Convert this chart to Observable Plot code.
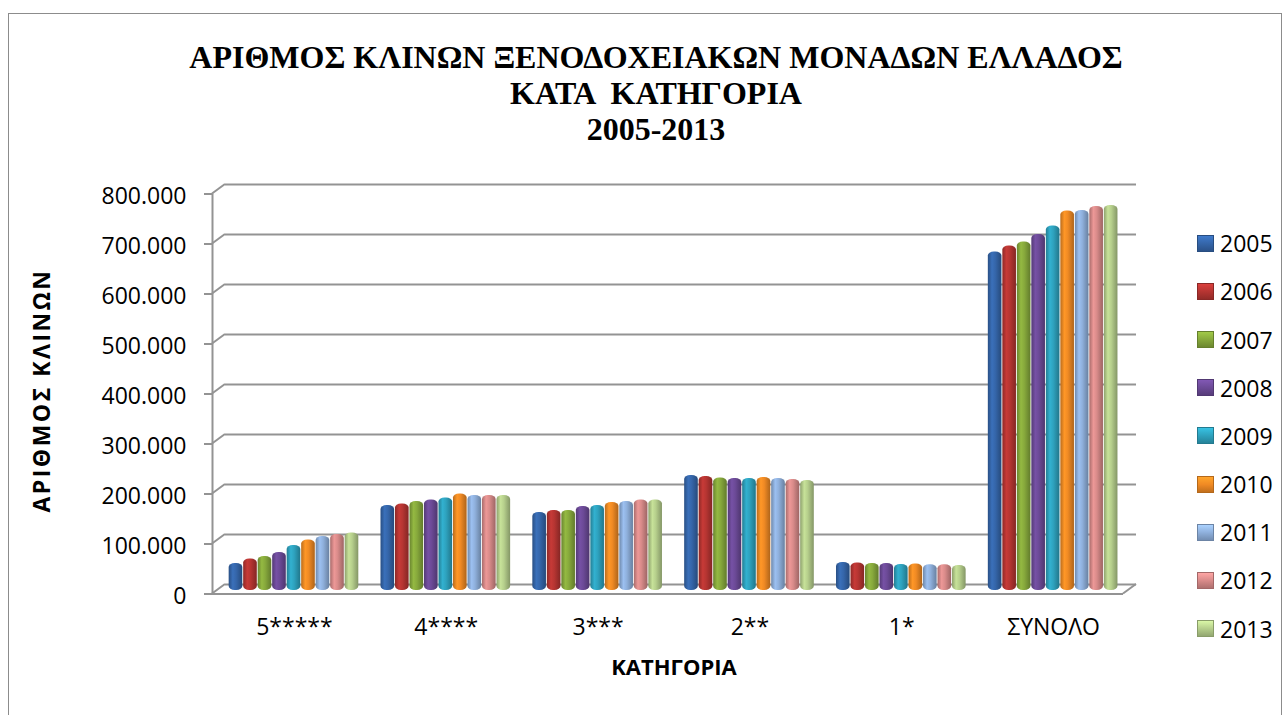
<!DOCTYPE html>
<html>
<head>
<meta charset="utf-8">
<script src="https://cdn.jsdelivr.net/npm/d3@7"></script>
<script src="https://cdn.jsdelivr.net/npm/@observablehq/plot@0.6"></script>
<style>
  html, body { margin: 0; padding: 0; background: #fff; }
  #wrap { position: relative; width: 1288px; height: 715px; overflow: hidden; background: #fff; }
  #border { position: absolute; left: 8px; top: 13px; width: 1274px; height: 760px; border: 1.5px solid #8c8c8c; box-sizing: border-box; }
  #title { position: absolute; left: 12px; width: 1288px; top: 39px; text-align: center;
           font-family: "Liberation Serif", "Times New Roman", serif; font-weight: bold; font-size: 32px; line-height: 36px; white-space: pre; color: #000; }
  #chart { position: absolute; left: 0; top: 0; }
  #legend { position: absolute; left: 1197px; top: 0; font-family: "Open Sans", sans-serif; font-size: 23px; color: #000; }
  .row { position: absolute; left: 0; height: 48px; display: flex; align-items: center; white-space: nowrap; }
  .sw { width: 17px; height: 17px; margin-right: 6px; box-sizing: border-box; }
  .ytitle { letter-spacing: 2.5px; }
</style>
</head>
<body>
<svg width="0" height="0" style="position:absolute"><defs id="defs"></defs></svg>
<div id="wrap">
  <div id="border"></div>
  <div id="title"></div>
  <div id="chart"></div>
  <div id="legend"></div>
</div>
<script>
// ---- data ----
const titleLines = ["ΑΡΙΘΜΟΣ ΚΛΙΝΩΝ ΞΕΝΟΔΟΧΕΙΑΚΩΝ ΜΟΝΑΔΩΝ ΕΛΛΑΔΟΣ", "ΚΑΤΑ  ΚΑΤΗΓΟΡΙΑ", "2005-2013"];
const yTitle = "ΑΡΙΘΜΟΣ ΚΛΙΝΩΝ";
const xTitle = "ΚΑΤΗΓΟΡΙΑ";
const categories = ["5*****", "4****", "3***", "2**", "1*", "ΣΥΝΟΛΟ"];
const years = ["2005", "2006", "2007", "2008", "2009", "2010", "2011", "2012", "2013"];
const beds5 = [54000, 63000, 68000, 76000, 90000, 101000, 108000, 112000, 115000];
const beds4 = [170000, 173000, 178000, 181000, 185000, 193000, 190000, 190000, 190000];
const beds3 = [156000, 160000, 160000, 168000, 170000, 176000, 178000, 181000, 181000];
const beds2 = [230000, 228000, 225000, 224000, 224000, 226000, 224000, 222000, 220000];
const beds1 = [56000, 55000, 54000, 54000, 52000, 53000, 51500, 51500, 50000];
const bedsTotal = [677000, 689000, 697000, 712000, 729000, 759000, 760000, 768000, 770000];
const yTicks = [0, 100000, 200000, 300000, 400000, 500000, 600000, 700000, 800000];
const colors = ["#3566aa", "#b63532", "#87a93c", "#6c4a97", "#2ea2be", "#f08a24", "#8fb0dc", "#d98b8a", "#b6cf8c"];

const seriesByCategory = [beds5, beds4, beds3, beds2, beds1, bedsTotal];
const rows = [];
seriesByCategory.forEach((vals, gi) => vals.forEach((v, yi) => rows.push({cat: categories[gi], gi, year: years[yi], yi, value: v})));

// ---- cylinder gradients ----
const defs = d3.select("#defs");
colors.forEach((c, i) => {
  const g = defs.append("linearGradient").attr("id", "cyl" + i).attr("x1", 0).attr("x2", 1).attr("y1", 0).attr("y2", 0);
  const base = d3.color(c);
  [[0, base.darker(0.7)], [0.3, base.brighter(0.25)], [0.55, base], [1, base.darker(0.9)]].forEach(([o, col]) =>
    g.append("stop").attr("offset", o).attr("stop-color", col.formatHex()));
});

// ---- title ----
document.getElementById("title").textContent = titleLines.join("\n");

// ---- chart ----
const w = 0.0955;       // slot of one bar within a category (x units)
const barFrac = 0.94;
const fmt = d3.formatLocale({thousands: ".", grouping: [3], decimal: ",", currency: ["", ""]}).format(",");
const gridColor = "#939393";

const frame3d = (index, scales) => {
  const g = d3.create("svg:g").attr("stroke", gridColor).attr("stroke-width", 2).attr("fill", "none");
  const x0 = scales.x(0), x6 = scales.x(6);
  for (const t of yTicks) {
    g.append("line").attr("x1", x0 - 6).attr("y1", scales.y(t) + 3.5).attr("x2", x0 + 7).attr("y2", scales.y(t) - 6);
  }
  g.append("line").attr("x1", x6 - 6).attr("y1", scales.y(0) + 3.5).attr("x2", x6 + 7).attr("y2", scales.y(0) - 6);
  return g.node();
};

const plot = Plot.plot({
  width: 1288,
  height: 715,
  marginTop: 190,
  marginBottom: 125,
  marginLeft: 218,
  marginRight: 159,
  x: {domain: [0, 6], axis: null},
  y: {domain: [0, 800000], axis: null},
  style: {fontFamily: "'Open Sans', sans-serif", fontSize: "23px", background: "transparent", color: "#000"},
  marks: [
    Plot.ruleY(yTicks, {x1: 0, x2: 6, dx: 7, dy: -6, stroke: gridColor, strokeWidth: 2.2}),
    frame3d,
    Plot.ruleX([0], {y1: 0, y2: 800000, dx: -6, dy: 3.5, stroke: gridColor, strokeWidth: 2}),
    Plot.ruleY([0], {x1: 0, x2: 6, dx: -6, dy: 3.5, stroke: gridColor, strokeWidth: 2}),
    Plot.axisY({ticks: yTicks, tickSize: 8, dx: -6, dy: 3.5, tickFormat: () => "", stroke: gridColor, strokeWidth: 2, label: null}),
    Plot.axisY({ticks: yTicks, tickSize: 0, tickPadding: 32, dy: 6, tickFormat: fmt, label: null}),
    ...years.map((yr, yi) => Plot.rectY(rows.filter(d => d.yi === yi), {
      x1: d => d.gi + 0.5 + (d.yi - 4.5) * w,
      x2: d => d.gi + 0.5 + (d.yi - 4.5 + barFrac) * w,
      y1: 0,
      y2: "value",
      fill: `url(#cyl${yi})`,
      rx: 6,
      ry: 4
    })),
    Plot.text(categories, {x: (d, i) => i + 0.5, frameAnchor: "bottom", dy: 44, text: d => d, fontSize: 23, fill: "#000"}),
    Plot.text([xTitle], {x: 3, frameAnchor: "bottom", dy: 84, text: d => d, fontSize: 22, fontWeight: "bold", fill: "#000"}),
    Plot.text([yTitle], {frameAnchor: "left", textAnchor: "middle", lineAnchor: "middle", dx: -176, rotate: -90, text: d => d, fontSize: 23, fontWeight: "bold", fill: "#000", className: "ytitle"})
  ]
});
document.getElementById("chart").appendChild(plot);

// ---- legend ----
const legend = d3.select("#legend");
years.forEach((yr, i) => {
  const r = legend.append("div").attr("class", "row").style("top", (243.3 + i * 48.15 - 24) + "px");
  r.append("div").attr("class", "sw").style("background", `linear-gradient(${d3.color(colors[i]).brighter(0.5)}, ${colors[i]}, ${d3.color(colors[i]).darker(0.6)})`).style("border", "1px solid " + d3.color(colors[i]).darker(0.8));
  r.append("span").text(yr);
});
</script>
</body>
</html>
